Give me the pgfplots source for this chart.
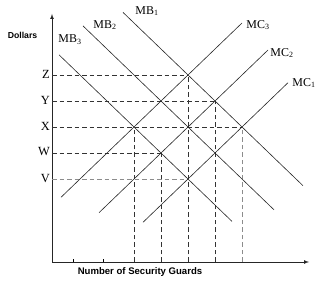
\documentclass[border=0pt]{standalone}
\usepackage{pgfplots}
\pgfplotsset{compat=1.18}
\usepackage{fontspec}
\setmainfont{Liberation Serif}
\setsansfont{Liberation Sans}
\begin{document}
\begin{tikzpicture}
\begin{axis}[
  width=323bp, height=283bp, scale only axis,
  xmin=-52, xmax=271, ymin=-21, ymax=262,
  hide axis, clip=false,
]
% invisible frame to fix bounding box
\addplot[draw=none] coordinates {(-52,-21) (271,262)};
% axes
\addplot[black!85, line width=0.7pt, -latex] coordinates {(0,0) (0,248)};
\addplot[black!85, line width=0.7pt, -latex] coordinates {(0,0) (257,0)};
\addplot[black, line width=0.5pt] coordinates {(21,0) (21,2.5)};
\addplot[black, line width=0.5pt] coordinates {(51,0) (51,2.5)};
% dashed guides
\pgfplotsset{dk/.style={black!80, line width=0.7pt, dash pattern=on 4.5bp off 3bp}, lt/.style={black!45, line width=0.6pt, dash pattern=on 4.5bp off 3bp}}
\addplot[dk] coordinates {(0,187) (136,187)};
\addplot[dk] coordinates {(0,161) (163,161)};
\addplot[dk] coordinates {(0,135) (190,135)};
\addplot[dk] coordinates {(0,109) (109,109)};
\addplot[lt] coordinates {(0,83) (136,83)};
\addplot[dk] coordinates {(82,0) (82,135)};
\addplot[dk] coordinates {(109,0) (109,109)};
\addplot[dk, line width=0.9pt] coordinates {(136,0) (136,187)};
\addplot[dk] coordinates {(163,0) (163,161)};
\addplot[lt] coordinates {(190,0) (190,135)};
% MB curves
\pgfplotsset{ln/.style={black!85, line width=0.6pt}}
\addplot[ln] coordinates {(7,207.2) (180,40.6)};
\addplot[ln] coordinates {(31,236.1) (222,52.2)};
\addplot[ln] coordinates {(71,249.6) (251,76.3)};
% MC curves
\addplot[ln] coordinates {(9,64.7) (190,239.0)};
\addplot[ln] coordinates {(47,49.3) (216,212.0)};
\addplot[ln] coordinates {(91,39.7) (236,179.3)};
% labels
\node[font=\fontsize{12}{14}\selectfont] at (axis cs:95,251) {MB\textsubscript{1}};
\node[font=\fontsize{12}{14}\selectfont] at (axis cs:53,237) {MB\textsubscript{2}};
\node[font=\fontsize{12}{14}\selectfont] at (axis cs:18,222) {MB\textsubscript{3}};
\node[font=\fontsize{12}{14}\selectfont] at (axis cs:206,237) {MC\textsubscript{3}};
\node[font=\fontsize{12}{14}\selectfont] at (axis cs:230,209) {MC\textsubscript{2}};
\node[font=\fontsize{12}{14}\selectfont] at (axis cs:252,179) {MC\textsubscript{1}};
\node[font=\fontsize{12.5}{14}\selectfont, anchor=east, inner sep=0pt] at (axis cs:-2,188) {Z};
\node[font=\fontsize{12.5}{14}\selectfont, anchor=east, inner sep=0pt] at (axis cs:-2,162) {Y};
\node[font=\fontsize{12.5}{14}\selectfont, anchor=east, inner sep=0pt] at (axis cs:-2,136) {X};
\node[font=\fontsize{12.5}{14}\selectfont, anchor=east, inner sep=0pt] at (axis cs:-2,110) {W};
\node[font=\fontsize{12.5}{14}\selectfont, anchor=east, inner sep=0pt] at (axis cs:-2,83) {V};
\node[font=\sffamily\bfseries\fontsize{8.7}{10}\selectfont] at (axis cs:-29.5,227) {Dollars};
\node[font=\sffamily\bfseries\fontsize{9.6}{11}\selectfont] at (axis cs:88,-10) {Number of Security Guards};
\end{axis}
\end{tikzpicture}
\end{document}
